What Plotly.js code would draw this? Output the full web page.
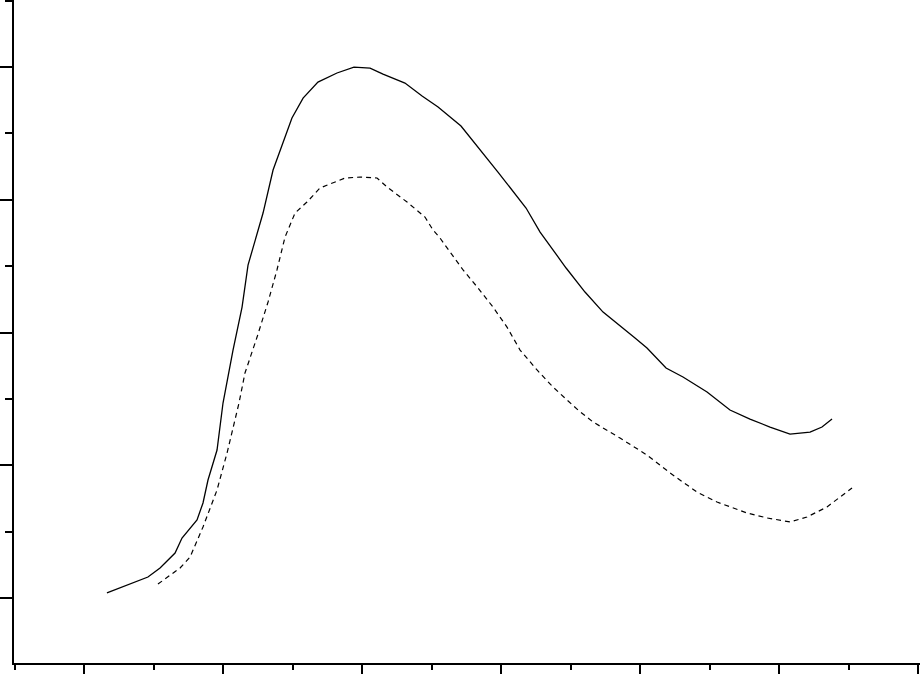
<!DOCTYPE html>
<html>
<head>
<meta charset="utf-8">
<script src="https://cdn.plot.ly/plotly-3.0.1.min.js"></script>
<style>html,body{margin:0;padding:0;background:#fff;}</style>
</head>
<body>
<div id="chart" style="width:920px;height:679px;"></div>
<script>
// Series A (solid line)
const xSolid = [1.165,1.460,1.547,1.655,1.705,1.813,1.856,1.892,1.957,2.000,2.072,2.137,2.180,2.288,2.360,2.496,2.576,2.683,2.820,2.942,3.058,3.151,3.309,3.432,3.547,3.712,3.978,4.180,4.281,4.468,4.604,4.734,4.964,5.050,5.187,5.309,5.482,5.647,5.791,5.935,6.079,6.223,6.309,6.381];
const ySolid = [1.038,1.158,1.226,1.339,1.452,1.588,1.716,1.889,2.115,2.469,2.868,3.192,3.508,3.900,4.224,4.616,4.766,4.887,4.955,5.000,4.992,4.947,4.879,4.782,4.699,4.556,4.209,3.938,3.757,3.486,3.305,3.154,2.959,2.883,2.733,2.665,2.552,2.416,2.348,2.288,2.235,2.250,2.288,2.348];
// Series B (dashed line)
const xDashed = [1.532,1.691,1.763,1.856,1.957,2.029,2.115,2.158,2.245,2.324,2.388,2.446,2.518,2.604,2.698,2.878,2.986,3.108,3.180,3.324,3.453,3.511,3.561,3.612,3.727,3.835,3.942,4.043,4.137,4.259,4.374,4.554,4.662,4.856,5.050,5.216,5.410,5.554,5.770,5.914,6.079,6.201,6.345,6.525];
const yDashed = [1.105,1.226,1.309,1.535,1.814,2.092,2.469,2.695,2.966,3.230,3.471,3.719,3.900,3.983,4.089,4.164,4.171,4.164,4.096,3.983,3.870,3.772,3.712,3.637,3.471,3.335,3.192,3.041,2.868,2.718,2.589,2.416,2.326,2.205,2.077,1.942,1.798,1.723,1.640,1.603,1.573,1.610,1.686,1.829];

const traces = [
  {x: xSolid, y: ySolid, type: 'scatter', mode: 'lines', line: {color: '#000', width: 1.3}, hoverinfo: 'none'},
  {x: xDashed, y: yDashed, type: 'scatter', mode: 'lines', line: {color: '#000', width: 1.2, dash: '5px,4px'}, hoverinfo: 'none'}
];

const layout = {
  width: 920, height: 679,
  margin: {l: 14, r: 0, t: 0, b: 16, pad: 0},
  paper_bgcolor: '#fff', plot_bgcolor: '#fff',
  showlegend: false,
  xaxis: {
    range: [0.4964, 7.014], showgrid: false, zeroline: false,
    showline: true, linecolor: '#000', linewidth: 2,
    tickmode: 'linear', tick0: 1, dtick: 1,
    ticks: 'outside', ticklen: 9, tickwidth: 2, tickcolor: '#000',
    showticklabels: false,
    minor: {tickmode: 'linear', tick0: 0.5, dtick: 1, ticks: 'outside', ticklen: 5, tickwidth: 2, tickcolor: '#000', showgrid: false}
  },
  yaxis: {
    range: [0.5104, 5.505], showgrid: false, zeroline: false,
    showline: true, linecolor: '#000', linewidth: 2,
    tickmode: 'linear', tick0: 1, dtick: 1,
    ticks: 'outside', ticklen: 14, tickwidth: 2, tickcolor: '#000',
    showticklabels: false,
    minor: {tickmode: 'linear', tick0: 0.5, dtick: 1, ticks: 'outside', ticklen: 7, tickwidth: 2, tickcolor: '#000', showgrid: false}
  }
};

Plotly.newPlot('chart', traces, layout, {staticPlot: true, displayModeBar: false});
</script>
</body>
</html>
